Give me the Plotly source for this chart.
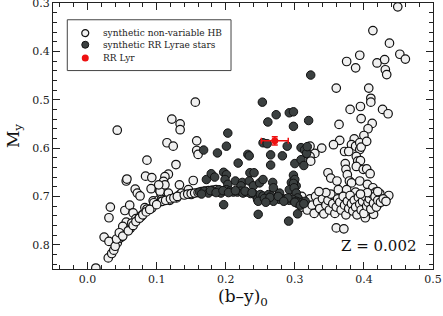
import plotly.graph_objects as go

# Synthetic non-variable HB stars (open circles)
hb_x = [0.449, 0.413, 0.437, 0.452, 0.460, 0.394, 0.375, 0.388, 0.419, 0.430, 0.431, 0.433,
        0.360, 0.407, 0.410, 0.410, 0.380, 0.395, 0.427, 0.435, 0.396, 0.412, 0.406, 0.400,
        0.364, 0.365, 0.356, 0.339, 0.329, 0.322, 0.322, 0.323, 0.386, 0.382, 0.388, 0.394,
        0.394, 0.396, 0.404, 0.372, 0.378, 0.389, 0.391, 0.395, 0.373, 0.374, 0.389, 0.399,
        0.404, 0.409, 0.348, 0.352, 0.361, 0.376, 0.379, 0.382, 0.394, 0.405, 0.413, 0.363,
        0.375, 0.388, 0.417, 0.423, 0.436, 0.428, 0.421, 0.414, 0.402, 0.360, 0.371,
        0.300, 0.305, 0.310, 0.315, 0.318, 0.322, 0.325, 0.328, 0.330, 0.333, 0.336, 0.340,
        0.342, 0.345, 0.348, 0.350, 0.352, 0.355, 0.358, 0.360, 0.362, 0.365, 0.367, 0.370,
        0.372, 0.374, 0.376, 0.378, 0.380, 0.382, 0.384, 0.386, 0.388, 0.390, 0.392, 0.394,
        0.396, 0.398, 0.400, 0.402, 0.404, 0.406, 0.408, 0.410, 0.412, 0.414, 0.416, 0.418,
        0.420, 0.424, 0.428, 0.432, 0.420, 0.405, 0.395, 0.345, 0.335, 0.310, 0.305,
        0.012, 0.030, 0.035, 0.038, 0.033, 0.031, 0.024, 0.031, 0.043, 0.047, 0.050, 0.056,
        0.051, 0.054, 0.061, 0.066, 0.062, 0.056, 0.057, 0.069, 0.072, 0.070, 0.075, 0.079,
        0.083, 0.086, 0.093, 0.095, 0.103, 0.086, 0.084, 0.093, 0.092, 0.104, 0.043, 0.040,
        0.042, 0.046, 0.051, 0.059, 0.064, 0.076, 0.078, 0.096, 0.106, 0.107,
        0.156, 0.122, 0.134, 0.134, 0.115, 0.124, 0.158, 0.158, 0.160, 0.128, 0.117, 0.112,
        0.110, 0.108, 0.105, 0.117, 0.107, 0.119, 0.129, 0.134, 0.133, 0.136, 0.146, 0.150,
        0.153, 0.112, 0.103,
        0.108, 0.113, 0.120, 0.125, 0.130, 0.140, 0.145, 0.150, 0.155, 0.160, 0.165, 0.170,
        0.175, 0.066, 0.070, 0.075, 0.080, 0.085, 0.090, 0.100, 0.181, 0.186, 0.192]
hb_y = [0.308, 0.357, 0.383, 0.406, 0.416, 0.408, 0.421, 0.434, 0.424, 0.417, 0.438, 0.448,
        0.476, 0.476, 0.497, 0.505, 0.520, 0.514, 0.520, 0.529, 0.539, 0.549, 0.560, 0.574,
        0.551, 0.584, 0.593, 0.600, 0.611, 0.596, 0.617, 0.627, 0.581, 0.593, 0.596, 0.589,
        0.603, 0.598, 0.586, 0.607, 0.607, 0.617, 0.627, 0.626, 0.632, 0.644, 0.638, 0.644,
        0.643, 0.653, 0.651, 0.662, 0.668, 0.655, 0.668, 0.672, 0.668, 0.675, 0.682, 0.686,
        0.686, 0.691, 0.691, 0.694, 0.698, 0.710, 0.715, 0.737, 0.744, 0.765, 0.767,
        0.700, 0.715, 0.722, 0.710, 0.728, 0.705, 0.718, 0.735, 0.700, 0.712, 0.725, 0.705,
        0.736, 0.718, 0.708, 0.728, 0.695, 0.715, 0.735, 0.722, 0.705, 0.712, 0.728, 0.700,
        0.718, 0.738, 0.710, 0.725, 0.698, 0.715, 0.730, 0.708, 0.722, 0.738, 0.702, 0.716,
        0.728, 0.710, 0.735, 0.700, 0.720, 0.712, 0.705, 0.726, 0.695, 0.714, 0.700, 0.722,
        0.708, 0.712, 0.705, 0.710, 0.690, 0.692, 0.695, 0.692, 0.690, 0.700, 0.705,
        0.848, 0.827, 0.818, 0.811, 0.722, 0.744, 0.784, 0.793, 0.796, 0.786, 0.783, 0.753,
        0.762, 0.729, 0.718, 0.734, 0.766, 0.668, 0.664, 0.685, 0.693, 0.746, 0.744, 0.738,
        0.723, 0.726, 0.724, 0.709, 0.707, 0.625, 0.658, 0.661, 0.684, 0.687, 0.563, 0.803,
        0.788, 0.775, 0.782, 0.771, 0.755, 0.699, 0.741, 0.713, 0.693, 0.706,
        0.505, 0.540, 0.550, 0.562, 0.589, 0.596, 0.585, 0.605, 0.613, 0.634, 0.654, 0.659,
        0.669, 0.686, 0.689, 0.693, 0.710, 0.708, 0.703, 0.696, 0.676, 0.693, 0.686, 0.696,
        0.667, 0.676, 0.676,
        0.710, 0.708, 0.705, 0.703, 0.700, 0.697, 0.695, 0.694, 0.693, 0.692, 0.690, 0.689,
        0.688, 0.760, 0.752, 0.745, 0.738, 0.732, 0.727, 0.717, 0.687, 0.686, 0.688]

# Synthetic RR Lyrae stars (filled dark circles)
rr_x = [0.323, 0.253, 0.273, 0.261, 0.292, 0.298, 0.298, 0.320, 0.203, 0.201, 0.168, 0.188,
        0.232, 0.234, 0.218, 0.265, 0.265, 0.282, 0.289, 0.254, 0.260, 0.309, 0.314, 0.317,
        0.318, 0.300, 0.309, 0.313, 0.298, 0.295, 0.300, 0.302,
        0.172, 0.179, 0.184, 0.197, 0.201, 0.199, 0.203, 0.214, 0.224, 0.235, 0.234, 0.240,
        0.249, 0.254, 0.268, 0.269, 0.278, 0.292, 0.298, 0.299, 0.302, 0.304, 0.222, 0.241,
        0.197, 0.247, 0.291, 0.304,
        0.162, 0.169, 0.175, 0.182, 0.190, 0.193, 0.201, 0.206, 0.211, 0.217, 0.222, 0.225,
        0.230, 0.236, 0.242, 0.246, 0.250, 0.254, 0.259, 0.262, 0.266, 0.270, 0.274, 0.278,
        0.283, 0.287, 0.292, 0.297, 0.302, 0.306, 0.311, 0.315, 0.247, 0.269,
        0.165, 0.178, 0.186, 0.196, 0.204, 0.214, 0.228, 0.238, 0.256, 0.264, 0.276, 0.290,
        0.300, 0.308, 0.313, 0.258, 0.284]
rr_y = [0.449, 0.505, 0.531, 0.546, 0.527, 0.525, 0.555, 0.543, 0.569, 0.596, 0.604, 0.610,
        0.613, 0.616, 0.631, 0.614, 0.635, 0.616, 0.596, 0.589, 0.591, 0.599, 0.604, 0.611,
        0.597, 0.632, 0.624, 0.636, 0.656, 0.671, 0.665, 0.678,
        0.665, 0.653, 0.660, 0.650, 0.655, 0.665, 0.675, 0.668, 0.671, 0.651, 0.668, 0.678,
        0.672, 0.665, 0.671, 0.682, 0.693, 0.686, 0.673, 0.682, 0.693, 0.703, 0.678, 0.651,
        0.717, 0.737, 0.751, 0.736,
        0.691, 0.689, 0.693, 0.689, 0.686, 0.693, 0.686, 0.689, 0.691, 0.691, 0.689, 0.693,
        0.691, 0.694, 0.696, 0.706, 0.696, 0.699, 0.706, 0.696, 0.699, 0.706, 0.703, 0.706,
        0.705, 0.706, 0.708, 0.706, 0.710, 0.712, 0.712, 0.710, 0.710, 0.710,
        0.695, 0.688, 0.692, 0.688, 0.692, 0.688, 0.689, 0.692, 0.704, 0.702, 0.700, 0.703,
        0.712, 0.718, 0.715, 0.712, 0.710]

# RR Lyr itself
rrlyr_x = [0.271]
rrlyr_y = [0.585]
rrlyr_xerr = [0.0195]
rrlyr_yerr = [0.0085]

x_ticks = [0.0, 0.1, 0.2, 0.3, 0.4, 0.5]
x_ticklabels = ["0.0", "0.1", "0.2", "0.3", "0.4", "0.5"]
y_ticks = [0.3, 0.4, 0.5, 0.6, 0.7, 0.8]
y_ticklabels = ["0.3", "0.4", "0.5", "0.6", "0.7", "0.8"]

legend_labels = ["synthetic non-variable HB", "synthetic RR Lyrae stars", "RR Lyr"]

FONT = "DejaVu Serif"
HB_FILL, HB_EDGE = "#f0f0f0", "#111111"
RR_FILL, RR_EDGE = "#3b4040", "#111111"
RED = "#ee1111"

fig = go.Figure()
fig.add_trace(go.Scatter(
    x=hb_x, y=hb_y, mode="markers", name=legend_labels[0],
    marker=dict(size=8.5, color=HB_FILL, line=dict(color=HB_EDGE, width=1.2)),
))
fig.add_trace(go.Scatter(
    x=rr_x, y=rr_y, mode="markers", name=legend_labels[1],
    marker=dict(size=8.5, color=RR_FILL, line=dict(color=RR_EDGE, width=1.0)),
))
fig.add_trace(go.Scatter(
    x=rrlyr_x, y=rrlyr_y, mode="markers", name=legend_labels[2],
    marker=dict(size=7, color=RED),
    error_x=dict(type="data", array=rrlyr_xerr, color=RED, thickness=1.5, width=3),
    error_y=dict(type="data", array=rrlyr_yerr, color=RED, thickness=1.5, width=3),
))

axis_common = dict(
    showline=True, linecolor="#222222", linewidth=1.2, mirror="allticks",
    ticks="inside", ticklen=7, tickwidth=1.1, tickcolor="#222222",
    showgrid=False, zeroline=False, ticklabeloverflow="allow", automargin=False,
    tickfont=dict(family=FONT, size=11, color="#222222"),
    minor=dict(dtick=0.02, ticks="inside", ticklen=4, tickwidth=1, tickcolor="#222222", showgrid=False),
)

fig.update_xaxes(range=[-0.05, 0.5], tickvals=x_ticks, ticktext=x_ticklabels,
                 title=dict(text="(b–y)<sub>0</sub>", font=dict(family=FONT, size=17, color="#111111"), standoff=0),
                 **axis_common)
fig.update_yaxes(range=[0.85, 0.3], tickvals=y_ticks, ticktext=y_ticklabels,
                 title=dict(text="M<sub>y</sub>", font=dict(family=FONT, size=17, color="#111111"), standoff=8),
                 **axis_common)

fig.add_annotation(x=0.478, y=0.803, xref="x", yref="y", text="Z = 0.002", showarrow=False,
                   xanchor="right", yanchor="middle",
                   font=dict(family=FONT, size=15, color="#111111"))

# Compact legend box drawn in paper coordinates
fig.add_shape(type="rect", xref="paper", yref="paper", x0=0.0376, x1=0.4685, y0=0.746, y1=0.937,
              line=dict(color="#444444", width=1), fillcolor="white", layer="above")
legend_rows = [0.887, 0.843, 0.793]
legend_styles = [(HB_FILL, HB_EDGE, 1.2), (RR_FILL, RR_EDGE, 1.0), (RED, RED, 0)]
for yy, (fill, edge, lw), lab in zip(legend_rows, legend_styles, legend_labels):
    fig.add_shape(type="circle", xref="paper", yref="paper", xsizemode="pixel", ysizemode="pixel",
                  xanchor=0.0849, yanchor=yy, x0=-3.5, x1=3.5, y0=-3.5, y1=3.5,
                  fillcolor=fill, line=dict(color=edge, width=lw), layer="above")
    fig.add_annotation(x=0.127, y=yy, xref="paper", yref="paper", text=lab, showarrow=False,
                       xanchor="left", yanchor="middle",
                       font=dict(family=FONT, size=9, color="#222222"))

fig.update_layout(
    width=443, height=316,
    margin=dict(l=53, r=10, t=3, b=47),
    paper_bgcolor="white", plot_bgcolor="white",
    showlegend=False,
)

fig.write_html("out.html", config={"displayModeBar": False},
               post_script="document.body.style.margin='0';document.body.style.overflow='hidden';")
